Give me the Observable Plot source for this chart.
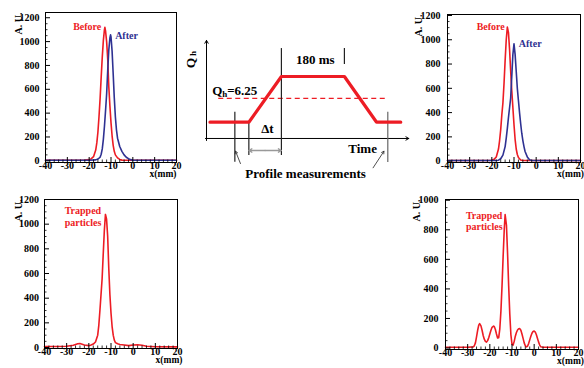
<!DOCTYPE html>
<html><head><meta charset="utf-8">
<script src="https://cdn.jsdelivr.net/npm/d3@7"></script>
<script src="https://cdn.jsdelivr.net/npm/@observablehq/plot@0.6"></script>
<style>
body{margin:0;background:#fff;}
#root{position:relative;width:584px;height:368px;overflow:hidden;background:#fff;}
.p{position:absolute;}
</style></head><body><div id="root"></div>
<script>
// ---------- data ----------
const RED = "#ed1c24", BLUE = "#2e3192";
const xTicks = [-40, -30, -20, -10, 0, 10, 20];
const xMinor = [-38,-36,-34,-32,-28,-26,-24,-22,-18,-16,-14,-12,-8,-6,-4,-2,2,4,6,8,12,14,16,18];
const yTicks1200 = [0, 200, 400, 600, 800, 1000, 1200];
const yTicks1000 = [0, 200, 400, 600, 800, 1000];

// top-left panel
const p1BeforeX = [-40,-30,-22,-20,-19,-18,-17,-16.5,-16,-15.5,-15,-14.5,-14,-13.5,-13,-12.8,-12.5,-12,-11.5,-11,-10.5,-10,-9.5,-9,-8.5,-8,-7,-6,-5,0,10,20];
const p1BeforeY = [5,5,6,10,18,35,90,150,240,370,520,700,870,1010,1100,1120,1090,1000,850,620,460,320,210,130,80,50,25,12,6,5,5,5];
const p1AfterX = [-40,-20,-17,-16,-15,-14.5,-14,-13.5,-13,-12.5,-12,-11.5,-11,-10.5,-10.2,-10,-9.5,-9,-8.5,-8,-7.5,-7,-6,-5,-4,-3,-2,-1,0,10,20];
const p1AfterY = [5,5,8,15,30,55,100,180,290,420,560,760,930,1030,1057,1040,920,730,530,370,260,190,120,80,50,30,18,10,6,5,5];

// top-right panel
const p2BeforeX = [-40,-22,-20,-19,-18,-17,-16.5,-16,-15.5,-15,-14.5,-14,-13.5,-13,-12.5,-12,-11.5,-11,-10.5,-10,-9.5,-9,-8.5,-8,-7,-6,0,20];
const p2BeforeY = [5,5,8,15,35,100,170,260,380,480,640,830,1000,1104,1060,920,740,580,440,300,180,100,55,30,10,5,5,5];
const p2AfterX = [-40,-18,-17,-16,-15,-14,-13.5,-13,-12.5,-12,-11.5,-11,-10.5,-10,-9.5,-9,-8.5,-8,-7.5,-7,-6.5,-6,-5.5,-5,-4,-3,-2,0,20];
const p2AfterY = [5,5,8,20,50,120,190,270,360,440,520,700,880,967,880,740,600,500,400,310,230,170,120,80,35,12,6,5,5];

// bottom-left panel
const p3TrappedX = [-40,-35,-30,-27,-25,-24,-22,-20,-19,-18,-17,-16,-15.5,-15,-14.5,-14,-13.5,-13,-12.5,-12,-11.5,-11,-10.5,-10,-9.5,-9,-8.5,-8,-7,-6,-4,-2,0,2,4,6,10,20];
const p3TrappedY = [8,8,10,18,30,32,20,15,20,28,45,100,180,300,430,560,760,950,1079,1040,900,640,430,280,170,100,60,40,30,25,20,15,20,22,18,10,6,5];

// bottom-right panel
const p4TrappedX = [-40,-30,-27.5,-27,-26.5,-26,-25.5,-25,-24.6,-24,-23.5,-23,-22.5,-22,-21.5,-21,-20.5,-20,-19.5,-19,-18.3,-18,-17.5,-17,-16.5,-16,-15.5,-15,-14.5,-14,-13.5,-13.1,-12.5,-12,-11.5,-11,-10.5,-10,-9.5,-9,-8.5,-8,-7.5,-7,-6.5,-6,-5.5,-5,-4.5,-4,-3.5,-3,-2.5,-2,-1.5,-1,-0.5,0,0.5,1,1.5,2,2.5,3,4,10,20];
const p4TrappedY = [5,5,8,15,35,75,120,155,165,150,120,85,60,45,40,50,70,95,120,140,149,145,125,95,68,70,130,250,420,620,800,903,830,640,420,230,90,25,20,45,80,105,122,130,131,120,95,65,35,15,8,12,30,55,80,100,112,115,108,90,65,40,20,8,5,5,5];

// schematic (time in ms, Qh in arbitrary tune units)
const rampTime = [10, 121, 214, 394, 486, 555];
const rampQ = [4, 4, 8.3, 8.3, 4, 4];
const qThreshold = 6.25;
const thresholdTime = [35, 518];
const markerTime = [214, 394, 121, 81, 518];
const markerQ1 = [0.87, 9.43, 0.87, 0.24, 0.21];
const markerQ2 = [10.93, 10.93, 4, 4.94, 4.94];
const markerColor = ["#222", "#222", "#222", "#222", "#666"];

// ---------- drawing ----------
const root = document.getElementById("root");
const FONT = {fontFamily: "'Liberation Serif', 'Times New Roman', serif", fontWeight: "bold", background: "transparent", overflow: "visible"};
const fmt = d => String(d);

function place(svg, left, top) {
  const div = document.createElement("div");
  div.className = "p"; div.style.left = left + "px"; div.style.top = top + "px";
  div.appendChild(svg); root.appendChild(div);
}

function panel(o) {
  const fw = o.w - o.ml - o.mr, fh = o.h - o.mt - o.mb;
  const yMinor = [];
  for (let i = 0; i + 1 < o.yTicks.length; i++) {
    const a = o.yTicks[i], b = o.yTicks[i+1];
    for (let k = 1; k < 4; k++) yMinor.push(a + (b - a) * k / 4);
  }
  const marks = [];
  for (const s of o.series) {
    marks.push(Plot.line(s.x.map((x, i) => ({x, y: s.y[i]})), {x: "x", y: "y", stroke: s.color, strokeWidth: 1.6}));
  }
  marks.push(
    Plot.tickY(yMinor, {y: d => d, insetRight: fw - 2.5, stroke: "black", strokeWidth: 0.8}),
    Plot.tickY(o.yTicks, {y: d => d, insetRight: fw - 5, stroke: "black"}),
    Plot.tickX(xMinor, {x: d => d, insetTop: fh - 2.5, stroke: "black", strokeWidth: 0.8}),
    Plot.tickX(xTicks, {x: d => d, insetTop: fh - 5, stroke: "black"}),
    Plot.axisY(o.yTicks, {tickSize: 0, tickPadding: o.ypad, fontSize: 10, label: null, tickFormat: fmt}),
    Plot.axisX(xTicks, {tickSize: 0, tickPadding: -1, fontSize: 10, label: null, tickFormat: fmt}),
    Plot.frame({stroke: "black", strokeWidth: 1}),
    Plot.text(["A. U."], {text: d => d, frameAnchor: "top-left", rotate: -90, textAnchor: "end", dx: o.audx, fontSize: 10}),
    Plot.text(["x(mm)"], {text: d => d, frameAnchor: "bottom-right", textAnchor: "end", dx: o.xldx, dy: 14.8, fontSize: 9.5})
  );
  for (const l of o.labels) {
    marks.push(Plot.text([l], {x: "x", y: "y", text: "text", fill: l.color, fontSize: 10, textAnchor: l.anchor || "middle", lineHeight: 1.15}));
  }
  const svg = Plot.plot({
    width: o.w, height: o.h,
    marginLeft: o.ml, marginRight: o.mr, marginTop: o.mt, marginBottom: o.mb,
    x: {domain: [-40, 20]}, y: {domain: o.ydom},
    style: FONT,
    marks
  });
  place(svg, o.left, o.top);
}

panel({left: 0, top: 0, w: 190, h: 185, ml: 45, mr: 14, mt: 12, mb: 23, ydom: [-14, 1244], yTicks: yTicks1200,
  ypad: 6, audx: -31, xldx: 0,
  series: [{x: p1BeforeX, y: p1BeforeY, color: RED}, {x: p1AfterX, y: p1AfterY, color: BLUE}],
  labels: [{x: -20.9, y: 1131, text: "Before", color: RED}, {x: -2.9, y: 1051, text: "After", color: BLUE}]});

panel({left: 395, top: 0, w: 189, h: 185, ml: 52, mr: 4, mt: 14, mb: 23, ydom: [-11, 1208], yTicks: yTicks1200,
  ypad: 7, audx: -33, xldx: 3.5,
  series: [{x: p2BeforeX, y: p2BeforeY, color: RED}, {x: p2AfterX, y: p2AfterY, color: BLUE}],
  labels: [{x: -20.5, y: 1114, text: "Before", color: RED}, {x: -2.7, y: 967, text: "After", color: BLUE}]});

panel({left: 0, top: 185, w: 190, h: 183, ml: 44, mr: 13, mt: 14, mb: 20, ydom: [-8, 1200], yTicks: yTicks1200,
  ypad: 5.5, audx: -30, xldx: 5,
  series: [{x: p3TrappedX, y: p3TrappedY, color: RED}],
  labels: [{x: -30.9, y: 1065, text: "Trapped\nparticles", color: RED, anchor: "start"}]});

panel({left: 395, top: 185, w: 189, h: 183, ml: 50, mr: 6, mt: 14, mb: 19, ydom: [-10, 1005], yTicks: yTicks1000,
  ypad: 7, audx: -33, xldx: 5.5,
  series: [{x: p4TrappedX, y: p4TrappedY, color: RED}],
  labels: [{x: -30.8, y: 861, text: "Trapped\nparticles", color: RED, anchor: "start"}]});

// schematic
const ramp = rampTime.map((t, i) => ({t, q: rampQ[i]}));
const markers = markerTime.map((t, i) => ({t, q1: markerQ1[i], q2: markerQ2[i], c: markerColor[i]}));
const axes = [{t1: -3, q1: 2.47, t2: 578, q2: 2.47}, {t1: 0, q1: 2.28, t2: 0, q2: 11.7}];
const pointers = [{t1: 97, q1: 0.11, t2: 83, q2: 1.27}, {t1: 476, q1: -0.29, t2: 507, q2: 1.27}];
const dtMid = (rampTime[1] + rampTime[2]) / 2;
const dtArrows = [{t1: dtMid, t2: rampTime[1], q: 1.34}, {t1: dtMid, t2: rampTime[2], q: 1.34}];
const texts = [
  {t: 311, q: 9.9, s: "180 ms"},
  {t: 174, q: 3.41, s: "\u0394t"},
  {t: 446, q: 1.53, s: "Time"},
  {t: 283, q: -0.83, s: "Profile measurements"}
];
const diag = Plot.plot({
  width: 236, height: 155, margin: 0,
  x: {domain: [-62.86, 611.43], axis: null},
  y: {domain: [-1.955, 12.63], axis: null},
  style: FONT,
  marks: [
    Plot.arrow(axes, {x1: "t1", y1: "q1", x2: "t2", y2: "q2", stroke: "black", strokeWidth: 1, headLength: 5}),
    Plot.ruleY([qThreshold], {x1: thresholdTime[0], x2: thresholdTime[1], stroke: RED, strokeWidth: 1.2, strokeDasharray: "5,3.5"}),
    Plot.ruleX(markers, {x: "t", y1: "q1", y2: "q2", stroke: "c", strokeWidth: 1.2}),
    Plot.line(ramp, {x: "t", y: "q", stroke: RED, strokeWidth: 3.2, strokeLinejoin: "miter"}),
    Plot.arrow(dtArrows, {x1: "t1", x2: "t2", y1: "q", y2: "q", stroke: "#999", strokeWidth: 1.3, headLength: 4}),
    Plot.arrow(pointers, {x1: "t1", y1: "q1", x2: "t2", y2: "q2", stroke: "#222", strokeWidth: 0.8, headLength: 5}),
    Plot.text(texts, {x: "t", y: "q", text: "s", fontSize: 13, fill: "black"}),
    Plot.text([qThreshold], {x: 16.3, y: 6.98, text: () => "Q", textAnchor: "start", fontSize: 13}),
    Plot.text([qThreshold], {x: 16.3, y: 6.98, text: () => "h", textAnchor: "start", fontSize: 9, dx: 10, dy: 4}),
    Plot.text([qThreshold], {x: 16.3, y: 6.98, text: d => "=" + d, textAnchor: "start", fontSize: 13, dx: 15}),
    Plot.text(["Q"], {x: -44.9, y: 9.57, text: d => d, rotate: -90, fontSize: 13.5}),
    Plot.text(["h"], {x: -38, y: 10.46, text: d => d, rotate: -90, fontSize: 9})
  ]
});
place(diag, 184, 30);
</script></body></html>
